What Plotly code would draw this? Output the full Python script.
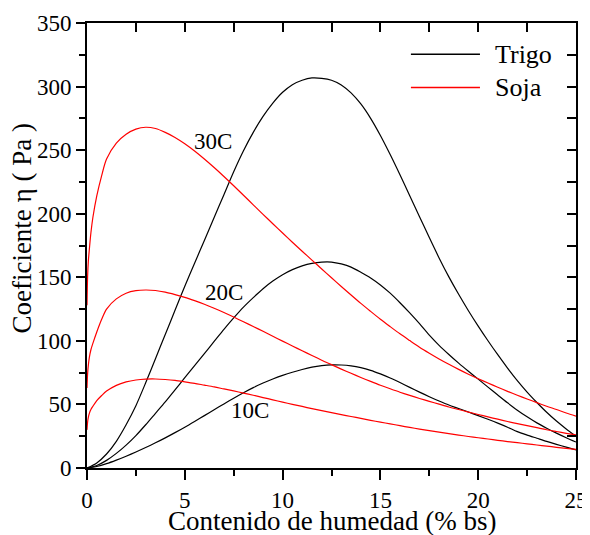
import plotly.graph_objects as go

# ---------------- data ----------------
x_trigo = [0, 0.5, 1, 1.5, 2, 2.5, 3, 3.5, 4, 4.5, 5, 5.5, 6, 6.5, 7, 7.5, 8, 8.5,
           9, 9.5, 10, 10.5, 11, 11.5, 12, 12.5, 13, 13.5, 14, 14.5, 15, 15.5, 16,
           16.5, 17, 17.5, 18, 18.5, 19, 19.5, 20, 20.5, 21, 21.5, 22, 22.5, 23,
           23.5, 24, 24.5, 25]

trigo_30 = [0, 4, 11, 21, 34, 49, 67, 86, 105, 124, 143, 161, 179, 197, 215, 233,
            249.5, 264, 276.5, 287, 295.5, 301.5, 305, 306.8, 306.5, 305, 301.3,
            295, 286.3, 275, 261.5, 246.5, 230.6, 214.2, 197.7, 181.2, 165.2,
            150.3, 136.6, 123.7, 111.6, 100.1, 89.1, 78.6, 68.7, 59.7, 51.5, 43.8,
            36.9, 30.7, 24.9]

trigo_20 = [0, 2, 6, 11.5, 18, 25.5, 34, 43, 52, 61.5, 71, 80.5, 90, 99.5, 109,
            118, 126.5, 134, 141, 147, 152, 156, 159, 161, 162, 162, 160.5, 158,
            154, 149.5, 144, 137.5, 130, 122, 113.5, 104.5, 96.5, 89.3, 82.5, 76.1,
            69.9, 63.6, 57.4, 51.3, 45.5, 40.3, 35.5, 31.3, 27.4, 23.8, 20.4]

trigo_10 = [0, 1.2, 3.4, 6.2, 9.3, 12.6, 16.1, 19.8, 23.7, 27.8, 32.1, 36.6, 41.2,
            45.8, 50.4, 54.9, 59.2, 63.2, 66.8, 70, 72.8, 75.3, 77.5, 79.3, 80.5,
            81.1, 81.0, 80.3, 78.9, 76.8, 74, 70.8, 67.2, 63.4, 59.7, 56.1, 52.7,
            49.5, 46.8, 44, 41.2, 38.3, 35.3, 32.1, 28.6, 25.9, 23.4, 20.9, 18.6,
            16.4, 14.3]

x_soja = [0, 0.03, 0.07, 0.12, 0.2, 0.3, 0.5, 0.75, 1, 1.5, 2, 2.5, 3, 3.5, 4,
          4.5, 5, 5.5, 6, 6.5, 7, 7.5, 8, 8.5, 9, 9.5, 10, 10.5, 11, 11.5, 12,
          12.5, 13, 13.5, 14, 14.5, 15, 15.5, 16, 16.5, 17, 17.5, 18, 18.5, 19,
          19.5, 20, 20.5, 21, 21.5, 22, 22.5, 23, 23.5, 24, 24.5, 25]

soja_30 = [128, 150, 163, 172, 185, 197, 214, 230, 243, 255.5, 262.5, 266.5, 268,
           267, 264, 260, 255, 249.3, 243, 236.3, 229.3, 222, 214.5, 207, 199.5,
           192.1, 184.8, 177.6, 170.5, 163.5, 156.5, 149.6, 142.8, 136.1, 129.5,
           123.2, 117, 111.2, 105.5, 100.2, 95, 90.3, 85.8, 81.6, 77.6, 73.8,
           70.2, 66.8, 63.5, 60.3, 57.2, 54.3, 51.4, 48.6, 46, 43.3, 40.8]

soja_20 = [63, 74, 81, 87, 93, 98, 107, 117, 125, 133, 137.5, 139.5, 140, 139.6,
           138.3, 136.4, 134.2, 131.6, 128.8, 125.7, 122.3, 118.7, 115, 111.3,
           107.5, 103.6, 99.8, 96, 92.2, 88.5, 84.8, 81.3, 77.8, 74.5, 71.2, 68.1,
           65.1, 62.3, 59.6, 57.1, 54.7, 52.4, 50.2, 48, 46, 44, 42.1, 40.2, 38.4,
           36.6, 34.9, 33.3, 31.7, 30.1, 28.7, 27.3, 26]

soja_10 = [30, 36, 40, 43, 46, 48.5, 53, 57, 60.5, 65, 67.7, 69.2, 69.9, 70, 69.6,
           68.9, 67.8, 66.6, 65.2, 63.8, 62.2, 60.6, 58.9, 57.2, 55.4, 53.6, 51.8,
           50.1, 48.4, 46.7, 45.1, 43.5, 42, 40.5, 39, 37.5, 36.1, 34.7, 33.3,
           31.9, 30.6, 29.4, 28.2, 27, 25.9, 24.8, 23.8, 22.8, 21.8, 20.8, 19.9,
           19, 18.1, 17.2, 16.3, 15.4, 14.6]

temp_labels = ["30C", "20C", "10C"]
temp_label_x = [6.43, 7.0, 8.33]
temp_label_y = [257, 138, 45]

legend_names = ["Trigo", "Soja"]
x_ticks = [0, 5, 10, 15, 20, 25]
y_ticks = [0, 50, 100, 150, 200, 250, 300, 350]

# ---------------- figure ----------------
FONT = "'Liberation Serif', 'Times New Roman', Times, serif"
BLACK = "black"
RED = "red"
fig = go.Figure()

line_kw = dict(shape="spline", smoothing=0.8, width=1.2)
for ys in (trigo_30, trigo_20, trigo_10):
    fig.add_trace(go.Scatter(x=x_trigo, y=ys, mode="lines",
                             line=dict(color=BLACK, **line_kw),
                             name=legend_names[0], showlegend=False,
                             hoverinfo="skip"))
for ys in (soja_30, soja_20, soja_10):
    fig.add_trace(go.Scatter(x=x_soja, y=ys, mode="lines",
                             line=dict(color=RED, **line_kw),
                             name=legend_names[1], showlegend=False,
                             hoverinfo="skip"))

# dummy trace for mirrored axes (top/right, ticks inside)
fig.add_trace(go.Scatter(x=[None], y=[None], xaxis="x2", yaxis="y2",
                         showlegend=False, hoverinfo="skip"))

for t, xv, yv in zip(temp_labels, temp_label_x, temp_label_y):
    fig.add_annotation(x=xv, y=yv, text=t, showarrow=False,
                       font=dict(family=FONT, size=23, color="black"))

# legend drawn by hand to match the long line samples
leg_y = [0.9298, 0.8551]
leg_col = [BLACK, RED]
for name, yy, col in zip(legend_names, leg_y, leg_col):
    fig.add_shape(type="line", xref="paper", yref="paper", layer="above",
                  x0=0.6624, x1=0.8036, y0=yy, y1=yy,
                  line=dict(color=col, width=1.3))
    fig.add_annotation(xref="paper", yref="paper", x=0.830, y=yy,
                       text=name, showarrow=False, xanchor="left",
                       yanchor="middle",
                       font=dict(family=FONT, size=26, color="black"))

# axis titles
fig.add_annotation(xref="paper", yref="paper", x=0.5, y=-0.1182,
                   text="Contenido de humedad (% bs)", showarrow=False,
                   xanchor="center", yanchor="middle",
                   font=dict(family=FONT, size=27, color="black"))
fig.add_annotation(xref="paper", yref="paper", x=-0.1336, y=0.5395,
                   text="Coeficiente η ( Pa )", showarrow=False,
                   textangle=-90, xanchor="center", yanchor="middle",
                   font=dict(family=FONT, size=27, color="black"))

axis_common = dict(showgrid=False, zeroline=False, showline=True,
                   linecolor="black", linewidth=2, tickcolor="black",
                   tickwidth=1.5, automargin=False)

fig.update_layout(
    width=582, height=527, autosize=False,
    margin=dict(l=79.3, r=14, t=14.7, b=66.5, pad=0, autoexpand=False),
    paper_bgcolor="white", plot_bgcolor="white",
    font=dict(family=FONT, size=23, color="black"),
    showlegend=False,
    xaxis=dict(range=[0, 25], tickvals=x_ticks, ticks="outside", ticklen=10,
               minor=dict(dtick=2.5, ticks="outside", ticklen=6,
                          tickcolor="black", tickwidth=1.5),
               tickfont=dict(family=FONT, size=23, color="black"),
               **axis_common),
    yaxis=dict(range=[0, 350], tickvals=y_ticks, ticks="outside", ticklen=9,
               minor=dict(dtick=25, ticks="outside", ticklen=6,
                          tickcolor="black", tickwidth=1.5),
               tickfont=dict(family=FONT, size=23, color="black"),
               **axis_common),
    xaxis2=dict(range=[0, 25], overlaying="x", side="top", anchor="y",
                dtick=2.5, tick0=0, ticks="inside", ticklen=9,
                showticklabels=False, **axis_common),
    yaxis2=dict(range=[0, 350], overlaying="y", side="right", anchor="x",
                dtick=25, tick0=0, ticks="inside", ticklen=9,
                showticklabels=False, **axis_common),
)

fig.write_html("out.html")
